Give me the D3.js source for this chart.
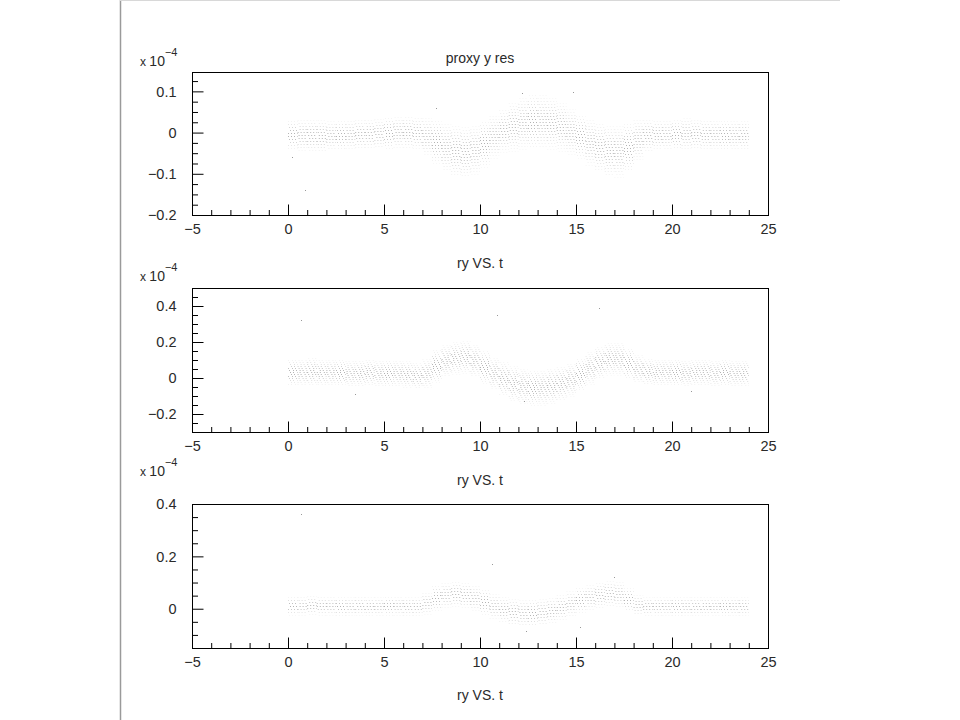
<!DOCTYPE html>
<html><head><meta charset="utf-8">
<script src="https://cdn.jsdelivr.net/npm/d3@7"></script>
<style>
body{margin:0;background:#fff}
svg{display:block}
text{font-family:"Liberation Sans",Arial,Helvetica,sans-serif}
</style>
</head><body>
<svg id="chart" width="960" height="720"></svg>
<script>
// ---------- data (units of 1e-4) ----------
const tBins = [0,0.5,1,1.5,2,2.5,3,3.5,4,4.5,5,5.5,6,6.5,7,7.5,8,8.5,9,9.5,10,10.5,11,11.5,
               12,12.5,13,13.5,14,14.5,15,15.5,16,16.5,17,17.5,18,18.5,19,19.5,20,20.5,21,21.5,22,22.5,23,23.5];
const binWidth = 0.5;

// panel 1 : proxy y res
const proxyCenter = [-0.006,-0.007,-0.008,-0.009,-0.008,-0.007,-0.006,-0.005,-0.004,-0.003,-0.002,0.000,0.000,-0.002,
                     -0.010,-0.022,-0.036,-0.045,-0.048,-0.042,-0.028,-0.010,0.004,0.014,0.022,0.026,0.026,0.022,
                     0.014,0.002,-0.010,-0.024,-0.036,-0.045,-0.046,-0.036,-0.018,-0.008,-0.006,-0.006,-0.005,-0.004,
                     -0.005,-0.006,-0.006,-0.007,-0.007,-0.007];
const proxySpread = [0.022,0.024,0.024,0.024,0.022,0.022,0.022,0.022,0.022,0.022,0.024,0.024,0.024,0.024,
                     0.028,0.032,0.036,0.038,0.038,0.036,0.034,0.032,0.032,0.036,0.038,0.040,0.040,0.038,
                     0.036,0.034,0.032,0.034,0.036,0.038,0.038,0.036,0.030,0.024,0.022,0.022,0.022,0.024,
                     0.022,0.022,0.022,0.022,0.022,0.022];
const proxyOutliers = [[0.9,-0.139],[10.0,-0.175],[12.2,0.096],[14.85,0.098],[7.7,0.06],[0.2,-0.06]];

// panel 2 : ry VS. t
const ryCenter = [0.030,0.030,0.035,0.030,0.030,0.030,0.025,0.025,0.030,0.025,0.025,0.025,0.020,0.012,
                  0.025,0.065,0.095,0.110,0.115,0.095,0.060,0.025,-0.005,-0.030,-0.045,-0.055,-0.055,-0.045,
                  -0.030,-0.010,0.020,0.055,0.085,0.105,0.105,0.080,0.050,0.035,0.030,0.030,0.030,0.025,
                  0.030,0.030,0.025,0.030,0.025,0.025];
const rySpread = [0.045,0.045,0.048,0.045,0.045,0.045,0.045,0.045,0.045,0.045,0.045,0.045,0.045,0.045,
                  0.050,0.055,0.055,0.055,0.055,0.055,0.055,0.055,0.058,0.060,0.060,0.060,0.060,0.060,
                  0.058,0.056,0.055,0.055,0.055,0.055,0.055,0.052,0.048,0.045,0.045,0.045,0.045,0.045,
                  0.045,0.045,0.045,0.045,0.045,0.045];
const ryOutliers = [[0.7,0.32],[10.9,0.35],[16.2,0.39],[12.3,-0.13],[3.5,-0.09],[21.0,-0.07]];

// panel 3 : ry VS. t
const ry2Center = [0.010,0.010,0.012,0.010,0.010,0.008,0.008,0.010,0.008,0.008,0.010,0.010,0.008,0.008,
                   0.020,0.040,0.050,0.055,0.050,0.040,0.025,0.008,-0.004,-0.014,-0.018,-0.018,-0.014,-0.008,
                   0.004,0.018,0.032,0.042,0.050,0.056,0.054,0.035,0.014,0.008,0.008,0.008,0.008,0.008,
                   0.008,0.008,0.008,0.008,0.008,0.008];
const ry2Spread = [0.022,0.022,0.022,0.022,0.022,0.022,0.022,0.022,0.022,0.022,0.022,0.022,0.022,0.022,
                   0.026,0.030,0.030,0.030,0.030,0.030,0.030,0.030,0.030,0.032,0.032,0.032,0.032,0.030,
                   0.030,0.030,0.030,0.030,0.030,0.030,0.030,0.028,0.024,0.022,0.022,0.022,0.022,0.022,
                   0.022,0.022,0.022,0.022,0.022,0.022];
const ry2Outliers = [[0.7,0.36],[10.6,0.17],[12.4,-0.085],[15.2,-0.07],[17.0,0.12]];

// axis ticks
const xMajorTicks = [-5,0,5,10,15,20,25];
const xMinorTicks = [-4,-3,-2,-1,1,2,3,4,6,7,8,9,11,12,13,14,16,17,18,19,21,22,23,24];
const y1Major = [-0.2,-0.1,0,0.1];
const y1Minor = [-0.175,-0.15,-0.125,-0.075,-0.05,-0.025,0.025,0.05,0.075,0.125];
const y2Major = [-0.2,0,0.2,0.4];
const y2Minor = [-0.25,-0.15,-0.1,-0.05,0.05,0.1,0.15,0.25,0.3,0.35,0.45];
const y3Major = [0,0.2,0.4];
const y3Minor = [-0.1,-0.05,0.05,0.1,0.15,0.25,0.3,0.35];

const titles = ["proxy y res","ry VS. t","ry VS. t","ry VS. t"];

// ---------- layout ----------
const svg = d3.select("#chart");
svg.append("rect").attr("x",0).attr("y",0).attr("width",960).attr("height",720).attr("fill","#fff");
svg.append("line").attr("x1",120.5).attr("x2",120.5).attr("y1",0).attr("y2",720).attr("stroke","#9a9a9a").attr("stroke-width",1.5);
svg.append("line").attr("x1",120).attr("x2",840).attr("y1",0.5).attr("y2",0.5).attr("stroke","#d8d8d8");

const x = d3.scaleLinear().domain([-5,25]).range([192,768]);

const panels = [
  {top:72, bottom:215, dom:[-0.2,0.147], major:y1Major, minor:y1Minor, center:proxyCenter, spread:proxySpread, out:proxyOutliers,
   rowPx:3, dash:"1,2", expY:66},
  {top:288, bottom:432, dom:[-0.3,0.5], major:y2Major, minor:y2Minor, center:ryCenter, spread:rySpread, out:ryOutliers,
   rowPx:2, dash:"1,3,1,2", expY:281},
  {top:504, bottom:648, dom:[-0.15,0.4], major:y3Major, minor:y3Minor, center:ry2Center, spread:ry2Spread, out:ry2Outliers,
   rowPx:3, dash:"1,2", expY:476}
];

const fmt = d => d === 0 ? "0" : d3.format("")(d);

panels.forEach((p, pi) => {
  const y = d3.scaleLinear().domain(p.dom).range([p.bottom, p.top]);
  const g = svg.append("g");

  // point cloud drawn as faint dotted rows per time bin
  const cloud = g.append("g");
  tBins.forEach((t, i) => {
    const c = p.center[i], w = p.spread[i];
    const x0 = x(t), x1 = x(t + binWidth);
    const yTop = Math.round(y(c + 1.6*w)), yBot = Math.round(y(c - 1.6*w));
    let k = 0;
    for (let py = yTop; py <= yBot; py += p.rowPx, k++) {
      const v = y.invert(py + 0.5);
      const d = (v - c) / w;
      const op = 0.5 * Math.exp(-d*d*0.9);
      if (op < 0.04) continue;
      cloud.append("line")
        .attr("x1", x0).attr("x2", x1)
        .attr("y1", py + 0.5).attr("y2", py + 0.5)
        .attr("stroke", "#6a6a6a")
        .attr("stroke-width", 1)
        .attr("stroke-dasharray", p.dash)
        .attr("stroke-dashoffset", (k * 5 + i * 3 + (k % 3)) % 7)
        .attr("opacity", op);
    }
  });
  cloud.selectAll("rect.out").data(p.out).enter().append("rect")
    .attr("x", d => Math.round(x(d[0])))
    .attr("y", d => Math.round(y(d[1])))
    .attr("width", 1).attr("height", 1)
    .attr("fill", "#999");

  // frame
  g.append("rect").attr("x", 192.5).attr("y", p.top + 0.5)
    .attr("width", 576).attr("height", p.bottom - p.top)
    .attr("fill", "none").attr("stroke", "#000").attr("stroke-width", 1);

  // x axis
  const xa = g.append("g").attr("transform", `translate(0,${p.bottom + 0.5})`);
  xa.call(d3.axisBottom(x).tickValues(xMajorTicks).tickSize(-11).tickPadding(8).tickFormat(fmt));
  xa.append("g").call(d3.axisBottom(x).tickValues(xMinorTicks).tickSize(-5.5).tickFormat(""));
  xa.selectAll(".domain").remove();

  // y axis
  const ya = g.append("g").attr("transform", "translate(192.5,0)");
  ya.call(d3.axisLeft(y).tickValues(p.major).tickSize(-11).tickPadding(16).tickFormat(fmt));
  ya.append("g").call(d3.axisLeft(y).tickValues(p.minor).tickSize(-5.5).tickFormat(""));
  ya.selectAll(".domain").remove();

  svg.selectAll(".tick line").attr("stroke", "#000");
  g.selectAll(".tick text").attr("font-size", 14.5).attr("fill", "#2a2a2a")
    .attr("font-family", '"Liberation Sans",Arial,sans-serif');

  // exponent label
  const ex = g.append("text").attr("x", 140).attr("y", p.expY)
    .attr("font-size", 12).attr("fill", "#2a2a2a");
  ex.append("tspan").text("x ");
  ex.append("tspan").attr("font-size", 14).text("10");
  ex.append("tspan").attr("dy", -10).attr("font-size", 11).text("\u22124");
});

// titles
const titleY = [63, 268, 485, 700];
titles.forEach((s, i) => {
  svg.append("text").attr("x", 480).attr("y", titleY[i]).attr("text-anchor", "middle")
    .attr("font-size", 14).attr("fill", "#2a2a2a").text(s);
});
</script>
</body></html>
